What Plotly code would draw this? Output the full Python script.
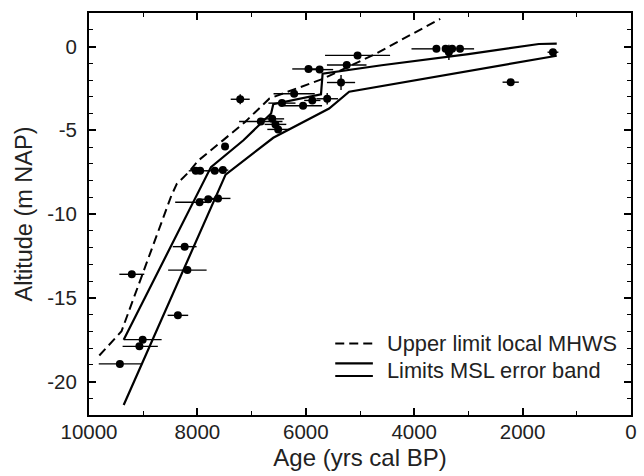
import plotly.graph_objects as go

# ---- data ----
age = [9430, 9070, 9010, 9210, 8360, 8185, 8235, 7960, 7800, 7620,
       8030, 7950, 7680, 7530, 7490, 7210, 6830, 6620, 6560, 6510,
       6440, 6050, 6215, 5880, 5605, 5950, 5745, 5245, 5350, 5045,
       3590, 3420, 3300, 3155, 3360, 2220, 1440]
altitude = [-18.95, -17.9, -17.5, -13.6, -16.05, -13.35, -11.95, -9.3, -9.12, -9.07,
            -7.42, -7.42, -7.42, -7.38, -5.97, -3.15, -4.48, -4.32, -4.65, -4.95,
            -3.38, -3.54, -2.82, -3.22, -3.12, -1.34, -1.38, -1.10, -2.15, -0.53,
            -0.14, -0.14, -0.14, -0.14, -0.35, -2.13, -0.34]
age_err_older = [390, 310, 350, 230, 190, 355, 220, 450, 200, 200,
                 130, 130, 150, 130, 40, 175, 400, 220, 200, 200,
                 250, 350, 380, 150, 200, 300, 150, 365, 260, 600,
                 460, 0, 0, 0, 0, 150, 100]
age_err_younger = [390, 340, 350, 230, 190, 355, 220, 200, 200, 230,
                   130, 130, 150, 100, 40, 175, 400, 220, 200, 200,
                   250, 350, 380, 150, 200, 200, 250, 365, 260, 600,
                   0, 0, 0, 260, 0, 150, 100]
alt_err = [0, 0, 0, 0, 0, 0, 0, 0, 0, 0,
           0, 0, 0, 0, 0, 0.3, 0, 0, 0, 0,
           0, 0, 0, 0, 0.35, 0, 0, 0, 0.45, 0,
           0, 0, 0, 0, 0.45, 0, 0]

mhws_age = [9810, 9400, 8480, 8380, 8160, 7980, 7490, 7120, 6670, 5700, 4750, 3520]
mhws_alt = [-18.45, -17.0, -8.9, -8.2, -7.5, -6.8, -5.5, -4.5, -3.1, -1.95, -0.5, 1.65]

msl_upper_age = [9360, 7950, 7750, 7150, 6640, 6600, 5720, 5690, 4600, 3000, 1700, 1370]
msl_upper_alt = [-17.5, -8.5, -7.2, -5.6, -4.0, -3.45, -2.85, -1.62, -1.12, -0.45, 0.15, 0.17]

msl_lower_age = [9360, 7480, 6600, 5570, 5200, 1370]
msl_lower_alt = [-21.4, -7.65, -5.45, -3.7, -2.7, -0.55]

x_ticks = [10000, 8000, 6000, 4000, 2000, 0]
y_ticks = [-20, -15, -10, -5, 0]
legend_labels = ["Upper limit local MHWS", "Limits MSL error band"]

FONT = "Liberation Sans, Arial, Helvetica, sans-serif"

fig = go.Figure()

fig.add_trace(go.Scatter(x=mhws_age, y=mhws_alt, mode="lines",
                         line=dict(color="black", width=2, dash="9px,5px"),
                         showlegend=False, hoverinfo="skip"))
fig.add_trace(go.Scatter(x=msl_upper_age, y=msl_upper_alt, mode="lines",
                         line=dict(color="black", width=2.2),
                         showlegend=False, hoverinfo="skip"))
fig.add_trace(go.Scatter(x=msl_lower_age, y=msl_lower_alt, mode="lines",
                         line=dict(color="black", width=2.2),
                         showlegend=False, hoverinfo="skip"))

fig.add_trace(go.Scatter(
    x=age, y=altitude, mode="markers",
    marker=dict(color="black", size=8),
    error_x=dict(type="data", symmetric=False, array=age_err_older,
                 arrayminus=age_err_younger, color="black", thickness=1.4, width=0),
    error_y=dict(type="data", array=alt_err, color="black", thickness=1.4, width=0),
    showlegend=False))

# manual legend (symbols as shapes, labels as text)
def px_x(p):
    return (p - 89.3) / 547.4

def px_y(p):
    return (415 - p) / 401.8

shapes = [
    dict(type="line", xref="paper", yref="paper", x0=px_x(338), x1=px_x(376),
         y0=px_y(343.5), y1=px_y(343.5), line=dict(color="black", width=2, dash="9px,5px")),
    dict(type="line", xref="paper", yref="paper", x0=px_x(338), x1=px_x(376),
         y0=px_y(363.5), y1=px_y(363.5), line=dict(color="black", width=2.2)),
    dict(type="line", xref="paper", yref="paper", x0=px_x(338), x1=px_x(376),
         y0=px_y(376), y1=px_y(376), line=dict(color="black", width=2.2)),
]
annotations = [
    dict(xref="paper", yref="paper", x=px_x(388), y=px_y(343.5), text=legend_labels[0],
         showarrow=False, xanchor="left", yanchor="middle",
         font=dict(family=FONT, size=21.8, color="#222")),
    dict(xref="paper", yref="paper", x=px_x(388), y=px_y(371), text=legend_labels[1],
         showarrow=False, xanchor="left", yanchor="middle",
         font=dict(family=FONT, size=21.8, color="#222")),
]

axis_common = dict(showline=True, linecolor="black", linewidth=2, mirror="ticks",
                   ticks="inside", ticklen=7, tickwidth=1.5, tickcolor="black",
                   showgrid=False, zeroline=False,
                   tickfont=dict(family=FONT, size=20.5, color="#222"))

fig.update_layout(
    width=644, height=476,
    margin=dict(l=89, r=7, t=13, b=61),
    paper_bgcolor="white", plot_bgcolor="white",
    font=dict(family=FONT, color="#222"),
    shapes=shapes, annotations=annotations,
    xaxis=dict(range=[10000, 0], tickmode="array", tickvals=x_ticks,
               ticktext=[str(v) for v in x_ticks],
               ticklabelstandoff=-3,
               minor=dict(dtick=1000, ticks="inside", ticklen=4, tickwidth=1.2, tickcolor="black"),
               title=dict(text="Age (yrs cal BP)", font=dict(family=FONT, size=24, color="#222"),
                          standoff=8),
               **axis_common),
    yaxis=dict(range=[-22, 2], tickmode="array", tickvals=y_ticks,
               ticktext=[str(v) for v in y_ticks],
               ticklabelstandoff=6,
               minor=dict(dtick=1, ticks="inside", ticklen=4, tickwidth=1.2, tickcolor="black"),
               title=dict(text="Altitude (m NAP)", font=dict(family=FONT, size=23.5, color="#222"),
                          standoff=8),
               **axis_common),
)

fig.write_html("out.html")
